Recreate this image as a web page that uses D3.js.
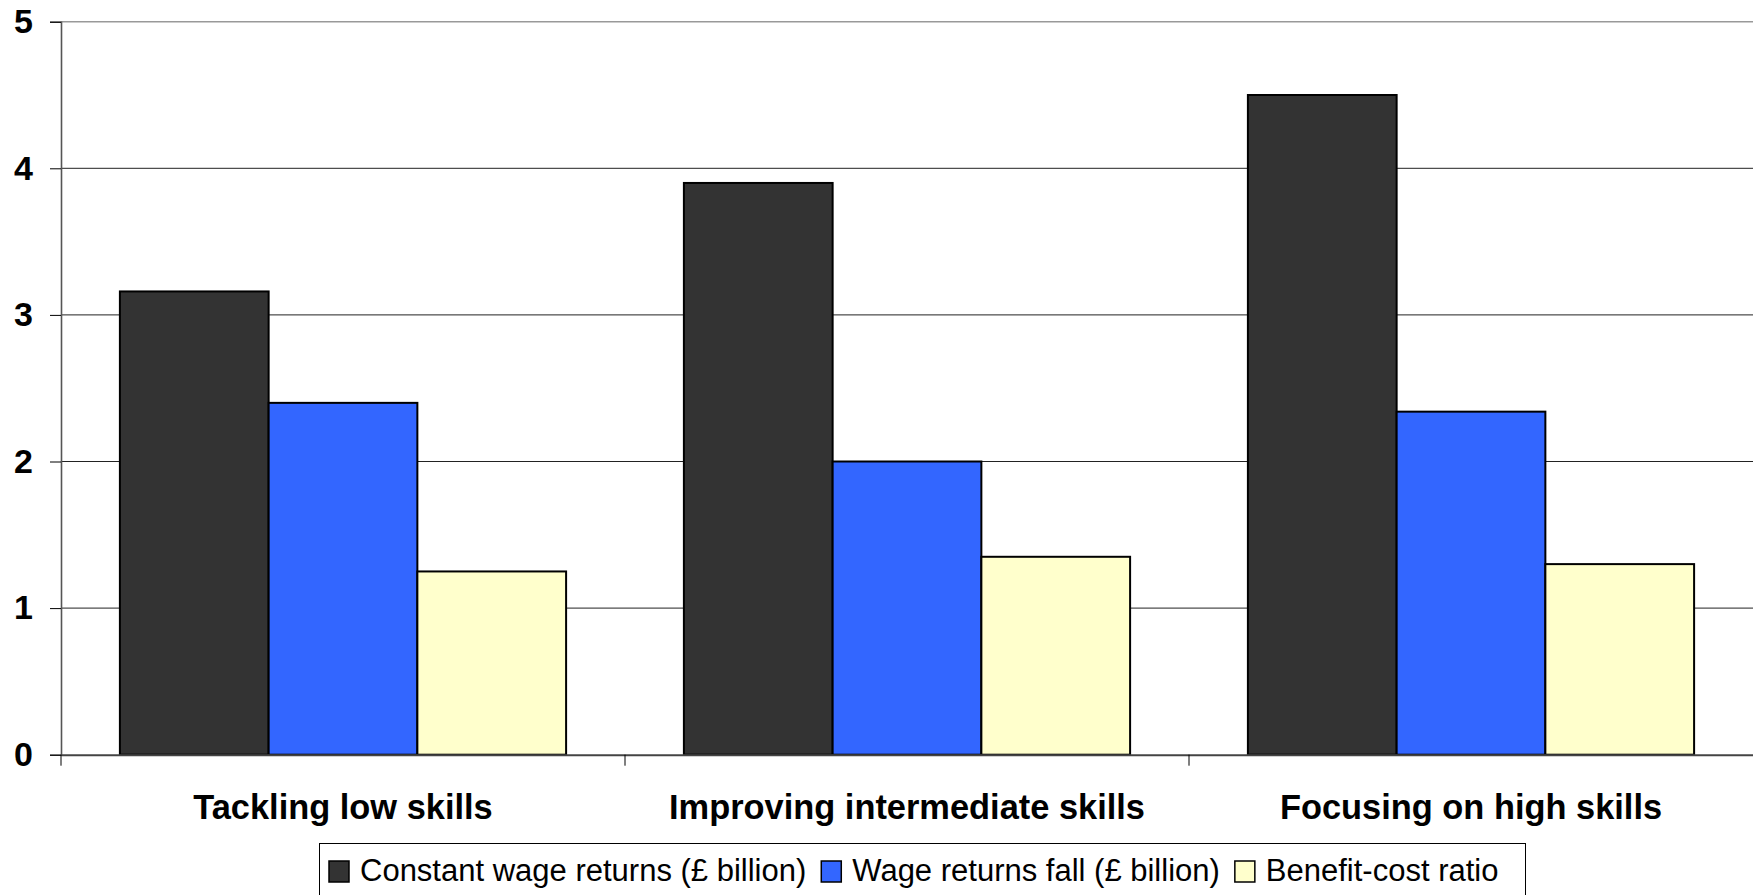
<!DOCTYPE html>
<html>
<head>
<meta charset="utf-8">
<script src="https://cdn.jsdelivr.net/npm/d3@7"></script>
<style>
  html, body { margin: 0; padding: 0; background: #ffffff; }
  svg { display: block; font-family: "Liberation Sans", Arial, Helvetica, sans-serif; }
</style>
</head>
<body>
<svg id="chart" width="1753" height="895"></svg>
<script>
// Categories and series
const categories = ["Tackling low skills", "Improving intermediate skills", "Focusing on high skills"];
const seriesNames = ["Constant wage returns (£ billion)", "Wage returns fall (£ billion)", "Benefit-cost ratio"];
const constantWageReturns = [3.16, 3.9, 4.5];
const wageReturnsFall = [2.4, 2.0, 2.34];
const benefitCostRatio = [1.25, 1.35, 1.3];
const yTicks = [0, 1, 2, 3, 4, 5];
const seriesColors = ["#333333", "#3366ff", "#ffffcc"];

const seriesValues = [constantWageReturns, wageReturnsFall, benefitCostRatio];
const rows = categories.map((c, i) => ({
  category: c,
  values: seriesNames.map((s, j) => ({ series: s, value: seriesValues[j][i] }))
}));

const svg = d3.select("#chart");
const plot = { left: 61, right: 1753, top: 21.7, bottom: 754.7 };

const y = d3.scaleLinear().domain([0, 5]).range([plot.bottom, plot.top]);
const x0 = d3.scaleBand().domain(categories).range([plot.left, plot.right]).padding(0);
const x1 = d3.scaleBand().domain(seriesNames).range([0, x0.bandwidth()])
  .paddingInner(0).paddingOuter(0.396);
const color = d3.scaleOrdinal().domain(seriesNames).range(seriesColors);

// Horizontal gridlines
svg.append("g").selectAll("line")
  .data(yTicks.filter(t => t > 0))
  .join("line")
  .attr("x1", plot.left).attr("x2", plot.right)
  .attr("y1", d => y(d)).attr("y2", d => y(d))
  .attr("stroke", d => d === 5 ? "#999999" : "#222222")
  .attr("stroke-width", d => d === 5 ? 1.6 : 1);

// Bars
const groups = svg.append("g").selectAll("g")
  .data(rows)
  .join("g")
  .attr("transform", d => `translate(${x0(d.category)},0)`);

groups.selectAll("rect")
  .data(d => d.values)
  .join("rect")
  .attr("x", d => x1(d.series))
  .attr("width", x1.bandwidth())
  .attr("y", d => y(d.value))
  .attr("height", d => y(0) - y(d.value))
  .attr("fill", d => color(d.series))
  .attr("stroke", "#000000")
  .attr("stroke-width", 2);

// Y axis
const yAxis = svg.append("g")
  .attr("transform", `translate(${plot.left},0)`)
  .call(d3.axisLeft(y).tickValues(yTicks).tickSize(11).tickPadding(17).tickFormat(d3.format("d")));
yAxis.select(".domain").attr("stroke", "#555555").attr("stroke-width", 1.6);
yAxis.selectAll(".tick line").attr("stroke", "#000000");
yAxis.selectAll(".tick text")
  .attr("font-family", "'Liberation Sans', Arial, sans-serif")
  .attr("font-size", 34).attr("font-weight", "bold").attr("fill", "#000000");

// X axis
const xAxis = svg.append("g")
  .attr("transform", `translate(0,${plot.bottom})`)
  .call(d3.axisBottom(x0).tickSize(0).tickPadding(40));
xAxis.select(".domain").attr("stroke", "#444444").attr("stroke-width", 2);
xAxis.selectAll(".tick text")
  .attr("font-family", "'Liberation Sans', Arial, sans-serif")
  .attr("font-size", 34.4).attr("font-weight", "bold").attr("fill", "#000000");

// Category boundary ticks
svg.append("g").selectAll("line")
  .data(categories)
  .join("line")
  .attr("x1", d => x0(d)).attr("x2", d => x0(d))
  .attr("y1", plot.bottom).attr("y2", plot.bottom + 11)
  .attr("stroke", "#000000").attr("stroke-width", 1);

// Legend
const legend = svg.append("g");
legend.append("rect")
  .attr("x", 319.5).attr("y", 843.5)
  .attr("width", 1206).attr("height", 70)
  .attr("fill", "#ffffff").attr("stroke", "#000000").attr("stroke-width", 1);

let lx = 329;
seriesNames.forEach((name, i) => {
  legend.append("rect")
    .attr("x", lx).attr("y", 861)
    .attr("width", 20).attr("height", 21)
    .attr("fill", color(name)).attr("stroke", "#000000").attr("stroke-width", 1.5);
  const t = legend.append("text")
    .attr("x", lx + 31).attr("y", 881)
    .attr("font-size", 31).attr("fill", "#000000")
    .text(name);
  lx = lx + 31 + t.node().getComputedTextLength() + 15;
});
</script>
</body>
</html>
